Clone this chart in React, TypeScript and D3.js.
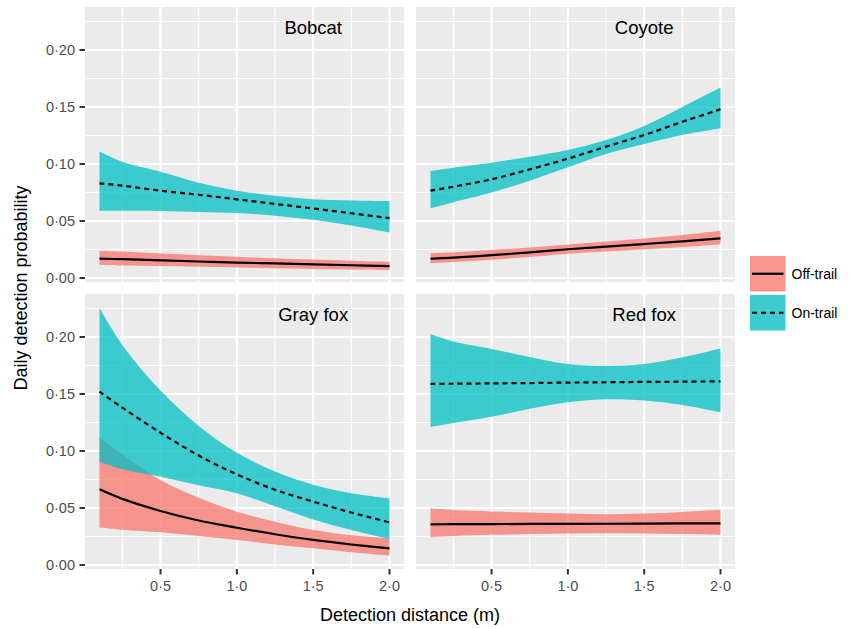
import React from "react";
import * as d3 from "d3";

// ---------- data ----------
const X = [0.1, 0.25, 0.5, 0.75, 1.0, 1.25, 1.5, 1.75, 2.0];
const SPECIES = ["Bobcat", "Coyote", "Gray fox", "Red fox"];
const TRAILS = ["Off-trail", "On-trail"];

const BOBCAT_OFF_MEAN = [0.017, 0.0165, 0.0155, 0.0145, 0.0135, 0.0128, 0.012, 0.0112, 0.0105];
const BOBCAT_OFF_LO = [0.0114, 0.011, 0.0105, 0.0099, 0.0093, 0.0086, 0.008, 0.0075, 0.007];
const BOBCAT_OFF_HI = [0.024, 0.0232, 0.0215, 0.02, 0.0186, 0.0173, 0.0162, 0.0152, 0.0143];
const BOBCAT_ON_MEAN = [0.083, 0.081, 0.0766, 0.073, 0.069, 0.065, 0.061, 0.0568, 0.0525];
const BOBCAT_ON_LO = [0.059, 0.059, 0.0588, 0.058, 0.057, 0.0547, 0.051, 0.046, 0.0398];
const BOBCAT_ON_HI = [0.111, 0.102, 0.0932, 0.0836, 0.0766, 0.0722, 0.069, 0.068, 0.0675];

const COYOTE_OFF_MEAN = [0.0169, 0.0178, 0.02, 0.0225, 0.0252, 0.0275, 0.0298, 0.0322, 0.0348];
const COYOTE_OFF_LO = [0.0129, 0.014, 0.016, 0.0185, 0.0212, 0.0232, 0.0252, 0.0272, 0.0295];
const COYOTE_OFF_HI = [0.0216, 0.0226, 0.0245, 0.0268, 0.0294, 0.032, 0.0347, 0.0378, 0.0415];
const COYOTE_ON_MEAN = [0.0766, 0.0801, 0.0866, 0.0953, 0.1047, 0.1152, 0.1254, 0.137, 0.148];
const COYOTE_ON_LO = [0.061, 0.0664, 0.0749, 0.0854, 0.0971, 0.1088, 0.1175, 0.1254, 0.1313];
const COYOTE_ON_HI = [0.0939, 0.0968, 0.1012, 0.1064, 0.1123, 0.121, 0.1333, 0.15, 0.167];

const GRAYFOX_OFF_MEAN = [0.0664, 0.058, 0.0474, 0.039, 0.0327, 0.027, 0.022, 0.018, 0.0146];
const GRAYFOX_OFF_LO = [0.033, 0.031, 0.0287, 0.0255, 0.022, 0.018, 0.0146, 0.0112, 0.0082];
const GRAYFOX_OFF_HI = [0.112, 0.097, 0.0745, 0.059, 0.0468, 0.038, 0.0307, 0.026, 0.0234];
const GRAYFOX_ON_MEAN = [0.152, 0.138, 0.116, 0.096, 0.0795, 0.066, 0.0556, 0.046, 0.0374];
const GRAYFOX_ON_LO = [0.0906, 0.084, 0.0775, 0.07, 0.0629, 0.0515, 0.04, 0.0307, 0.0228];
const GRAYFOX_ON_HI = [0.2255, 0.193, 0.153, 0.122, 0.0985, 0.082, 0.0705, 0.063, 0.0585];

const REDFOX_OFF_MEAN = [0.0357, 0.0358, 0.0359, 0.036, 0.0361, 0.0362, 0.0363, 0.0365, 0.0366];
const REDFOX_OFF_LO = [0.0246, 0.0255, 0.0265, 0.0271, 0.0276, 0.0278, 0.0276, 0.0271, 0.0263];
const REDFOX_OFF_HI = [0.0497, 0.0482, 0.047, 0.046, 0.0452, 0.0445, 0.0452, 0.0466, 0.0485];
const REDFOX_ON_MEAN = [0.1588, 0.159, 0.1593, 0.1596, 0.16, 0.1603, 0.1606, 0.1608, 0.1611];
const REDFOX_ON_LO = [0.121, 0.1245, 0.13, 0.137, 0.1427, 0.1453, 0.1442, 0.1404, 0.134];
const REDFOX_ON_HI = [0.2026, 0.196, 0.1895, 0.1825, 0.1762, 0.1745, 0.1762, 0.1822, 0.19];

const Y_TICKS = [0, 0.05, 0.1, 0.15, 0.2];
const Y_MINOR = [0.025, 0.075, 0.125, 0.175, 0.225];
const X_TICKS = [0.5, 1.0, 1.5, 2.0];
const X_MINOR = [0.25, 0.75, 1.25, 1.75];

const X_TITLE = "Detection distance (m)";
const Y_TITLE = "Daily detection probability";

// ---------- assembled ----------
const SERIES = [
  [
    { mean: BOBCAT_OFF_MEAN, lo: BOBCAT_OFF_LO, hi: BOBCAT_OFF_HI },
    { mean: BOBCAT_ON_MEAN, lo: BOBCAT_ON_LO, hi: BOBCAT_ON_HI },
  ],
  [
    { mean: COYOTE_OFF_MEAN, lo: COYOTE_OFF_LO, hi: COYOTE_OFF_HI },
    { mean: COYOTE_ON_MEAN, lo: COYOTE_ON_LO, hi: COYOTE_ON_HI },
  ],
  [
    { mean: GRAYFOX_OFF_MEAN, lo: GRAYFOX_OFF_LO, hi: GRAYFOX_OFF_HI },
    { mean: GRAYFOX_ON_MEAN, lo: GRAYFOX_ON_LO, hi: GRAYFOX_ON_HI },
  ],
  [
    { mean: REDFOX_OFF_MEAN, lo: REDFOX_OFF_LO, hi: REDFOX_OFF_HI },
    { mean: REDFOX_ON_MEAN, lo: REDFOX_ON_LO, hi: REDFOX_ON_HI },
  ],
];

// ---------- layout / style ----------
const W = 850;
const H = 629;
const COL_X = [85, 416];
const ROW_Y = [7, 294];
const PW = 319;
const PH = 275;
const X_DOMAIN: [number, number] = [0.005, 2.095];
const Y_DOMAIN: [number, number] = [-0.0035, 0.2377];
const FILLS = ["#F8766D", "#00BFC4"];
const DASH = ["", "5,4"];
const FONT = "'Liberation Sans', Arial, Helvetica, sans-serif";
const CURVE = d3.curveCatmullRom.alpha(0.5);
const fmt = (v: number, d: number) => v.toFixed(d).replace(".", "\u00B7");

function Panel({ idx }: { idx: number }) {
  const col = idx % 2;
  const row = Math.floor(idx / 2);
  const x0 = COL_X[col];
  const y0 = ROW_Y[row];
  const xs = d3.scaleLinear().domain(X_DOMAIN).range([x0, x0 + PW]);
  const ys = d3.scaleLinear().domain(Y_DOMAIN).range([y0 + PH, y0]);
  const series = SERIES[idx];
  return (
    <g>
      <rect x={x0} y={y0} width={PW} height={PH} fill="#EBEBEB" />
      {Y_MINOR.map((v) => (
        <line key={"ym" + v} x1={x0} x2={x0 + PW} y1={ys(v)} y2={ys(v)} stroke="#fff" strokeWidth={1.1} />
      ))}
      {X_MINOR.map((v) => (
        <line key={"xm" + v} y1={y0} y2={y0 + PH} x1={xs(v)} x2={xs(v)} stroke="#fff" strokeWidth={1.1} />
      ))}
      {Y_TICKS.map((v) => (
        <line key={"yM" + v} x1={x0} x2={x0 + PW} y1={ys(v)} y2={ys(v)} stroke="#fff" strokeWidth={2.2} />
      ))}
      {X_TICKS.map((v) => (
        <line key={"xM" + v} y1={y0} y2={y0 + PH} x1={xs(v)} x2={xs(v)} stroke="#fff" strokeWidth={2.2} />
      ))}
      {series.map((s, k) => {
        const a = d3
          .area<number>()
          .x((_, i) => xs(X[i]))
          .y0((_, i) => ys(s.lo[i]))
          .y1((_, i) => ys(s.hi[i]))
          .curve(CURVE);
        return <path key={"r" + k} d={a(X) || ""} fill={FILLS[k]} fillOpacity={0.75} />;
      })}
      {series.map((s, k) => {
        const l = d3
          .line<number>()
          .x((_, i) => xs(X[i]))
          .y((_, i) => ys(s.mean[i]))
          .curve(CURVE);
        return (
          <path
            key={"l" + k}
            d={l(X) || ""}
            fill="none"
            stroke="#000"
            strokeWidth={2.2}
            strokeDasharray={DASH[k] || undefined}
          />
        );
      })}
      <text
        x={xs(1.5)}
        y={ys(0.22)}
        textAnchor="middle"
        dominantBaseline="central"
        fontSize={18.5}
        fontFamily={FONT}
        fill="#000"
      >
        {SPECIES[idx]}
      </text>
      {col === 0 &&
        Y_TICKS.map((v) => (
          <g key={"yt" + v}>
            <line x1={x0 - 5.5} x2={x0} y1={ys(v)} y2={ys(v)} stroke="#333" strokeWidth={2} />
            <text
              x={x0 - 10}
              y={ys(v)}
              textAnchor="end"
              dominantBaseline="central"
              fontSize={14.5}
              fontFamily={FONT}
              fill="#4D4D4D"
            >
              {fmt(v, 2)}
            </text>
          </g>
        ))}
      {row === 1 &&
        X_TICKS.map((v) => (
          <g key={"xt" + v}>
            <line x1={xs(v)} x2={xs(v)} y1={y0 + PH} y2={y0 + PH + 5.5} stroke="#333" strokeWidth={2} />
            <text
              x={xs(v)}
              y={y0 + PH + 22}
              textAnchor="middle"
              fontSize={14.5}
              fontFamily={FONT}
              fill="#4D4D4D"
            >
              {fmt(v, 1)}
            </text>
          </g>
        ))}
    </g>
  );
}

export default function App() {
  const legendX = 750;
  const legendY = [256, 295];
  const key = 35.5;
  return (
    <svg
      width={W}
      height={H}
      style={{ position: "absolute", left: 0, top: 0, background: "#fff" }}
    >
      <rect width={W} height={H} fill="#fff" />
      {SPECIES.map((_, i) => (
        <Panel key={i} idx={i} />
      ))}
      <text
        x={(COL_X[0] + COL_X[1] + PW) / 2}
        y={621}
        textAnchor="middle"
        fontSize={18}
        fontFamily={FONT}
        fill="#000"
      >
        {X_TITLE}
      </text>
      <text
        transform={`translate(27, ${(ROW_Y[0] + ROW_Y[1] + PH) / 2}) rotate(-90)`}
        textAnchor="middle"
        fontSize={18}
        fontFamily={FONT}
        fill="#000"
      >
        {Y_TITLE}
      </text>
      {TRAILS.map((t, k) => (
        <g key={t}>
          <rect x={legendX} y={legendY[k]} width={key} height={key} fill="#F2F2F2" />
          <rect x={legendX} y={legendY[k]} width={key} height={key} fill={FILLS[k]} fillOpacity={0.75} />
          <line
            x1={legendX + 2}
            x2={legendX + key - 2}
            y1={legendY[k] + key / 2}
            y2={legendY[k] + key / 2}
            stroke="#000"
            strokeWidth={2.2}
            strokeDasharray={DASH[k] || undefined}
          />
          <text
            x={legendX + key + 6}
            y={legendY[k] + key / 2}
            dominantBaseline="central"
            fontSize={14}
            fontFamily={FONT}
            fill="#000"
          >
            {t}
          </text>
        </g>
      ))}
    </svg>
  );
}
